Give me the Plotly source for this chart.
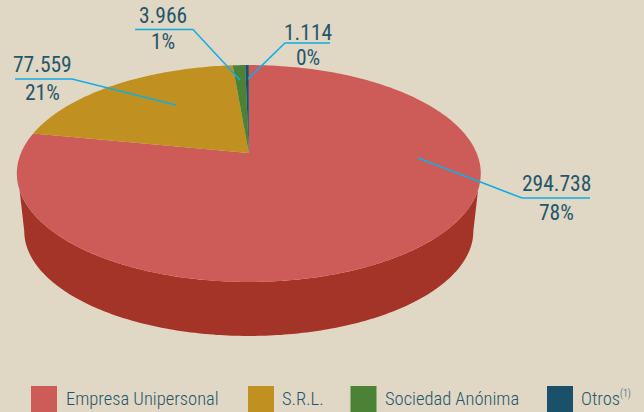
import math
import numpy as np
import plotly.graph_objects as go

categories = ["Empresa Unipersonal", "S.R.L.", "Sociedad Anónima", "Otros"]
legend_labels = ["Empresa Unipersonal", "S.R.L.", "Sociedad Anónima", "Otros<sup><span style='font-size:10px'>(1)</span></sup>"]
values = [294738, 77559, 3966, 1114]
value_labels = ["294.738", "77.559", "3.966", "1.114"]
percent_labels = ["78%", "21%", "1%", "0%"]
colors = ["#CD5C58", "#C09020", "#4C8236", "#1A5069"]
side_color = "#A43427"
bg = "#E1D7C5"
text_color = "#24566A"
line_color = "#10AEE4"
FONT = "Roboto Condensed, Liberation Sans Narrow, Roboto"

# perspective projection of the pie disc
CX, CY, A, B, K = 248.8, 153, 227.8, 104.6, 0.189
DEPTH, SHRINK = 58.1, 0.968

def project(theta, r=1.0, lower=False):
    x, y = r * np.sin(theta), r * np.cos(theta)
    d = 1 + K * y
    f, dy = (SHRINK, DEPTH) if lower else (1.0, 0.0)
    return CX + f * A * x / d, CY + dy - f * B * y / d

fig = go.Figure()

# side wall: upper rim joined to the lower rim's widest points
t_top = np.radians(np.linspace(109.4, 250.6, 200))
t_low = np.radians(np.linspace(259.1, 100.9, 200))
tx, ty = project(t_top)
lx, ly = project(t_low, lower=True)
fig.add_trace(go.Scatter(x=np.r_[tx, lx], y=np.r_[ty, ly], fill="toself", fillcolor=side_color,
                         mode="none", hoverinfo="skip"))

# top face slices
total = sum(values)
start = 0.0
for v, c, n in zip(values, colors, categories):
    sweep = 2 * math.pi * v / total
    a = np.linspace(start, start + sweep, max(3, int(v / total * 360) + 2))
    px, py = project(a)
    fig.add_trace(go.Scatter(x=np.r_[CX, px, CX], y=np.r_[CY, py, CY], fill="toself", fillcolor=c,
                             mode="none", name=n, hoverinfo="skip"))
    start += sweep

# leader lines
leaders = [
    ([418, 522, 590], [158, 198, 198]),
    ([176, 72, 15], [105, 79, 79]),
    ([240, 193, 135], [80, 29.5, 29.5]),
    ([248, 285, 330], [79, 43, 43]),
]
for lxs, lys in leaders:
    fig.add_trace(go.Scatter(x=lxs, y=lys, mode="lines", line=dict(color=line_color, width=1.5), hoverinfo="skip"))

# data labels
label_pos = [(556.5, 183.5, 212.5), (42, 64.5, 92.5), (163, 15.5, 41.5), (308, 32.5, 57)]
anns = []
for (x, y1, y2), vl, pl in zip(label_pos, value_labels, percent_labels):
    anns.append(dict(x=x, y=y1, text=vl, showarrow=False, xref="x", yref="y",
                     font=dict(family=FONT, size=21.5, weight=400, color=text_color)))
    anns.append(dict(x=x, y=y2, text=pl, showarrow=False, xref="x", yref="y",
                     font=dict(family=FONT, size=21.5, weight=400, color=text_color)))

# legend
swatch_x = [31, 248, 350.5, 547]
text_x = [63.5, 280, 383, 579]
shapes = []
for sx, tx_, c, lab in zip(swatch_x, text_x, colors, legend_labels):
    shapes.append(dict(type="rect", x0=sx, x1=sx + 26, y0=386, y1=416, xref="x", yref="y",
                       fillcolor=c, line=dict(width=0)))
    anns.append(dict(x=tx_, y=399, text=lab, showarrow=False, xanchor="left", xref="x", yref="y",
                     font=dict(family=FONT, size=18.5, weight=300, color=text_color)))

fig.update_layout(
    width=644, height=412, margin=dict(l=0, r=0, t=0, b=0),
    paper_bgcolor=bg, plot_bgcolor=bg, showlegend=False,
    xaxis=dict(range=[0, 644], visible=False, fixedrange=True),
    yaxis=dict(range=[412, 0], visible=False, fixedrange=True),
    annotations=anns, shapes=shapes,
)
fig.write_html("out.html", config={"displayModeBar": False},
               post_script="document.body.style.margin='0';document.body.style.overflow='hidden';document.body.style.background='%s';" % bg)
